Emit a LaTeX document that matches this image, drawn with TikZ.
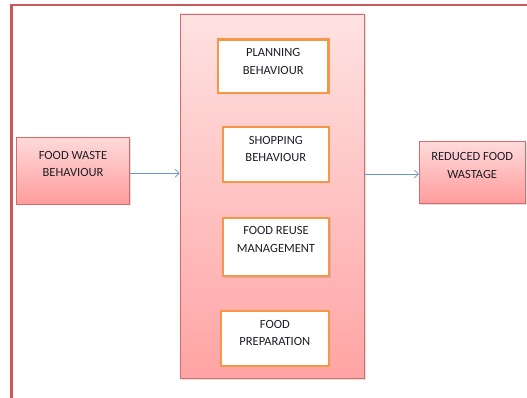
\documentclass[tikz,border=0pt]{standalone}
\usepackage{fontspec}
\setmainfont{Carlito}
\usetikzlibrary{shadows,arrows.meta}
\definecolor{frameRed}{HTML}{C9585A}
\definecolor{edgeRed}{HTML}{D86A6A}
\definecolor{pinkTop}{HTML}{FFE2E2}
\definecolor{pinkBot}{HTML}{FFA4A4}
\definecolor{boxTop}{HTML}{FFDADA}
\definecolor{boxBot}{HTML}{FF9C9C}
\definecolor{stepOrange}{HTML}{F79646}
\definecolor{flowBlue}{HTML}{6A98D0}
\definecolor{inkGray}{HTML}{1E1E28}
\begin{document}
\begin{tikzpicture}[x=1pt,y=-1pt,
  lbl/.style={font=\fontsize{12.5}{17.5}\selectfont, align=center, text=inkGray, inner sep=0pt},
  shade/.style={drop shadow={shadow xshift=1.5pt, shadow yshift=-1.5pt, opacity=0.25, fill=gray}},
  holder/.style={draw=edgeRed, line width=0.9pt, top color=pinkTop, bottom color=pinkBot, shade, inner sep=0pt},
  endbox/.style={draw=edgeRed, line width=0.9pt, top color=boxTop, bottom color=boxBot, shade, inner sep=0pt},
  stepbox/.style={draw=stepOrange, line width=2.2pt, fill=white, shade, inner sep=0pt},
  flow/.style={draw=flowBlue, line width=0.7pt, -{Straight Barb[length=4pt,width=8pt]}}]
\useasboundingbox (0,0) rectangle (527,398);
\begin{scope}
\clip (0,0) rectangle (527,398);
% outer frame, only its top and left sides are in view
\draw[frameRed, line width=2.2pt] (11.5,410) -- (11.5,4.8) -- (540,4.8);

% central container
\node[holder, minimum width=184pt, minimum height=364pt] (cont) at (272,196) {};

% steps inside the container
\node[stepbox, minimum width=110.5pt, minimum height=53.5pt] (plan) at (273.2,66.2) {};
\node[lbl] (planT) at (273.2,61.5) {PLANNING\\BEHAVIOUR};
\node[stepbox, minimum width=106.3pt, minimum height=54.7pt] (shop) at (275.8,154.3) {};
\node[lbl] (shopT) at (275.8,148.9) {SHOPPING\\BEHAVIOUR};
\node[stepbox, minimum width=106pt, minimum height=58.3pt] (reuse) at (276,246.9) {};
\node[lbl] (reuseT) at (276,239.5) {FOOD REUSE\\MANAGEMENT};
\node[stepbox, minimum width=108.3pt, minimum height=54.7pt] (prep) at (274.8,338.3) {};
\node[lbl] (prepT) at (274.8,333) {FOOD\\PREPARATION};

% input and output boxes
\node[endbox, minimum width=112.6pt, minimum height=66.7pt] (src) at (73,170.6) {};
\node[lbl] (srcT) at (73,164.2) {FOOD WASTE\\BEHAVIOUR};
\node[endbox, minimum width=105.7pt, minimum height=61.6pt] (dst) at (472.2,172.5) {};
\node[lbl] (dstT) at (472.2,165.3) {REDUCED FOOD\\WASTAGE};

% connectors
\draw[flow] ([yshift=-2.7pt]src.east) -- ([yshift=-2.7pt]src.east -| cont.west);
\draw[flow] ([yshift=-1.5pt]cont.east |- dst.west) -- ([yshift=-1.5pt]dst.west);
\end{scope}
\end{tikzpicture}
\end{document}
